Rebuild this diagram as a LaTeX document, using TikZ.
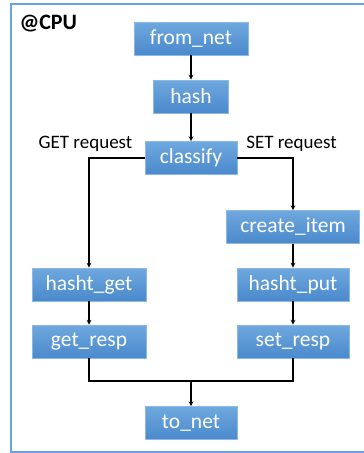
\documentclass[tikz,border=0pt]{standalone}
\usepackage{fontspec}
\setmainfont{Carlito}
\usetikzlibrary{arrows,shapes,calc,positioning}
\definecolor{boxtop}{HTML}{6FA8DE}
\definecolor{boxbot}{HTML}{4A89CC}
\definecolor{boxline}{HTML}{8CB8E4}
\definecolor{frameblue}{HTML}{6AA3DD}
\tikzstyle{edge}  =[line width=1.1pt, >=stealth]
\tikzstyle{block} =[rectangle, draw=boxline, line width=0.8pt,
                    top color=boxtop, bottom color=boxbot,
                    text=white, minimum height=33pt, inner sep=0pt,
                    font=\fontsize{21.5}{24}\selectfont]
\tikzstyle{note}  =[inner sep=1pt, fill=none, draw=none,
                    font=\fontsize{19}{22}\selectfont]

\begin{document}
\begin{tikzpicture}[node distance=58pt, on grid, edge]
    \useasboundingbox (0pt,0pt) rectangle (364pt,-453pt);
    \draw[frameblue, line width=1.5pt] (366pt,-4pt) -- (11pt,-4pt)
        -- (11pt,-452pt) -- (366pt,-452pt);
    \node (cpu) [note, anchor=west, font=\fontsize{22}{24}\selectfont\bfseries]
        at (18pt,-24pt) {@CPU};
    \node (fromnet) [block, minimum width=114pt] at (191pt,-38.5pt) {from\_net};
    \node (hash) [block, minimum width=75pt, below=of fromnet] {hash};
    \node (classify) [block, minimum width=92pt, below=61.5pt of hash] {classify};
    \node (get) [note, above left=14pt and 105.5pt of classify] {GET request};
    \node (set) [note, above right=14pt and 100.5pt of classify] {SET request};
    \node (createitem) [block, minimum width=133pt,
        below right=69pt and 102pt of classify] {create\_item};
    \node (hashtget) [block, minimum width=114pt,
        below left=126.5pt and 102pt of classify] {hasht\_get};
    \node (hashtput) [block, minimum width=112pt, below=57.5pt of createitem] {hasht\_put};
    \node (getresp) [block, minimum width=114pt, below=57pt of hashtget] {get\_resp};
    \node (setresp) [block, minimum width=112pt, below=57pt of hashtput] {set\_resp};
    \node (tonet) [block, minimum width=92pt, below=265pt of classify] {to\_net};
    \coordinate [above=42pt of tonet] (m);
    \draw[->] (fromnet) to (hash);
    \draw[->] (hash) to (classify);
    \draw[->] (classify) -| (hashtget);
    \draw[->] (classify) -| (createitem);
    \draw[->] (hashtget) to (getresp);
    \draw[->] (createitem) to (hashtput);
    \draw[->] (hashtput) to (setresp);
    \draw (getresp) |- (m);
    \draw (setresp) |- (m);
    \draw[->] (m) to (tonet);
\end{tikzpicture}
\end{document}
